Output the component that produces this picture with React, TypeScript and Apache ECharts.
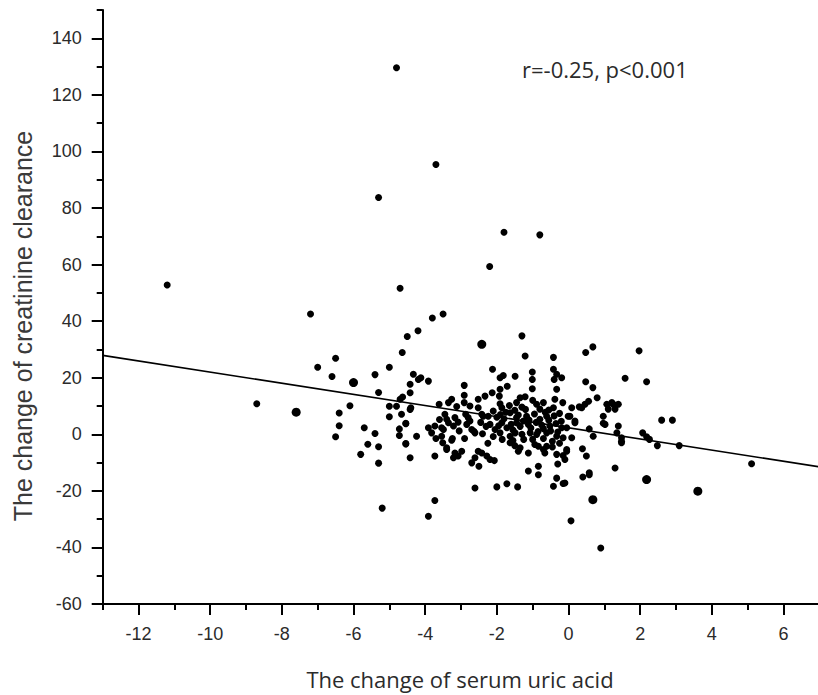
import React, { useEffect, useRef } from "react";
import * as echarts from "echarts";

const xMajorTicks = [-12, -10, -8, -6, -4, -2, 0, 2, 4, 6];
const xMinorTicks = [-13, -11, -9, -7, -5, -3, -1, 1, 3, 5, 7];
const yMajorTicks = [-60, -40, -20, 0, 20, 40, 60, 80, 100, 120, 140];
const yMinorTicks = [-50, -30, -10, 10, 30, 50, 70, 90, 110, 130, 150];

const xTitle = "The change of serum uric acid";
const yTitle = "The change of creatinine clearance";
const annotation = "r=-0.25, p<0.001";

// regression line end points
const fitLine = [
  [-13, 27.9],
  [7, -11.5],
];

// outlying points (upper part)
const upperPoints = [
  [-4.8, 129.6], [-5.3, 83.7], [-11.2, 52.8], [-7.2, 42.5], [-4.7, 51.6], [-4.5, 34.6],
  [-4.2, 36.6], [-3.7, 95.4], [-1.8, 71.4], [-0.8, 70.5], [-2.2, 59.3], [-3.8, 41.1],
  [-3.5, 42.5], [-1.3, 34.8],
];

// left cluster
const leftPoints = [
  [-6.5, 26.9], [-7.0, 23.7], [-6.6, 20.4], [-5.0, 23.7], [-5.4, 21.1], [-5.3, 14.8],
  [-8.7, 10.8], [-6.1, 10.1], [-6.4, 7.5], [-6.4, 3.0], [-6.5, -0.9], [-5.8, -7.1],
  [-5.7, 2.3], [-5.6, -3.5], [-5.4, 0.3], [-5.3, -4.4], [-5.3, -10.2], [-5.2, -26.1],
  [-5.0, 9.9], [-5.0, 6.2], [-4.8, 9.9], [-4.7, 12.4], [-4.66, 7.1], [-4.72, 1.9],
  [-4.72, -0.4], [-4.54, 3.7], [-4.54, -3.4], [-4.42, -8.3], [-4.42, 8.8], [-4.42, 14.7],
  [-4.42, 17.7], [-4.33, 21.2], [-4.64, 28.9], [-4.24, -0.7], [-4.19, 19.4], [-4.63, 13.2],
  [-4.4, 9.4],
];

// middle cluster, upper half
const midUpperPoints = [
  [-1.21, 27.7], [-0.42, 27.2], [-2.12, 23.0], [-4.12, 20.0], [-3.91, 18.8], [-1.91, 20.0],
  [-1.82, 20.8], [-1.49, 20.5], [-1.71, 17.0], [-1.01, 22.0], [-1.01, 19.4], [-1.01, 16.1],
  [-2.91, 17.3], [-2.91, 13.8], [-2.91, 11.2], [-1.91, 15.9], [-2.13, 14.7], [-2.33, 13.5],
  [-2.52, 12.4], [-1.93, 13.5], [-1.91, 10.8], [-3.26, 12.4], [-3.35, 11.2], [-3.61, 10.6],
  [-1.35, 12.9], [-1.21, 13.3], [-1.45, 11.2], [-2.52, 9.4], [-2.75, 10.0], [-3.12, 9.8],
  [-3.45, 7.1], [-3.4, 5.3], [-3.17, 5.9], [-2.8, 5.9], [-2.42, 7.1], [-2.24, 6.4],
  [-1.86, 9.4], [-1.63, 7.6], [-0.89, 10.6], [-0.8, 8.9], [-0.42, 23.0], [-0.4, 19.4],
  [-0.33, 21.2], [-0.33, 15.9], [-0.38, 12.4], [-0.42, 9.4], [-1.17, 6.4], [-1.45, 5.9],
  [-0.8, 5.3], [-0.61, 6.4],
];

// middle cluster, lower half
const midLowerPoints = [
  [-4.54, 3.9], [-4.54, -3.3], [-3.73, -7.7], [-3.91, 2.3], [-3.82, 0.5], [-3.73, 2.9],
  [-3.54, 2.3], [-3.54, -0.7], [-3.51, -3.0], [-3.26, -2.1], [-3.4, -5.4], [-3.17, -6.6],
  [-3.08, -7.7], [-2.98, -6.0], [-3.21, -8.3], [-3.35, 4.1], [-3.21, 2.9], [-3.08, 4.3],
  [-2.84, 3.5], [-2.7, 1.7], [-2.61, 0.5], [-2.52, -6.0], [-2.42, -6.6], [-2.61, -8.3],
  [-2.7, -10.1], [-2.5, -11.3], [-2.28, -7.7], [-2.19, -8.9], [-2.07, -9.3], [-2.19, 3.5],
  [-2.05, 1.7], [-1.91, 0.5], [-1.86, 4.1], [-1.72, 2.3], [-1.63, -0.7], [-1.63, -3.0],
  [-1.49, 0.5], [-1.4, -6.0], [-1.35, -4.8], [-1.45, 4.1], [-1.26, 4.7], [-1.12, 3.5],
  [-1.07, 0.5], [-1.12, -6.6], [-0.89, -0.1], [-0.94, -3.6], [-0.84, -4.2], [-0.7, -5.4],
  [-0.61, -4.2], [-0.66, -6.6], [-0.61, 0.5], [-0.52, 2.9], [-0.33, -0.7], [-0.33, -7.1],
  [-1.12, -13.0], [-0.84, -11.3], [-0.84, -14.3], [-0.33, -15.5], [-0.42, -18.4], [-2.61, -19.0],
  [-2.0, -18.6], [-1.72, -17.5], [-1.42, -18.6], [-3.73, -23.4], [-3.91, -29.0], [-3.49, 1.7],
  [-3.24, -1.5], [-3.4, -4.8], [-2.87, 7.1], [-2.75, 4.7], [-2.64, 1.1], [-2.38, 6.4],
];

// dense core (estimated)
const corePoints = [
  [-2.1, 8.2], [-2.0, 6.0], [-1.95, 3.0], [-1.8, 5.5], [-1.75, 7.8], [-1.6, 3.5],
  [-1.55, 1.5], [-1.5, 8.5], [-1.4, 6.8], [-1.35, 2.8], [-1.3, 0.0], [-1.25, -1.8],
  [-1.2, 8.8], [-1.1, 5.0], [-1.05, 2.2], [-0.95, 7.2], [-0.9, 4.2], [-0.85, 1.0],
  [-0.75, 3.3], [-0.7, -1.5], [-0.65, 7.8], [-0.55, 5.0], [-0.5, 1.2], [-0.45, -2.5],
  [-0.4, 6.5], [-0.35, 3.8], [-0.3, 0.8], [-0.25, -3.2], [-0.45, -4.5], [-1.55, -2.2],
  [-2.3, 2.8], [-2.45, 4.2], [-2.1, -0.8], [-1.85, -1.8], [-3.05, 1.2], [-2.9, -1.5],
  [-3.6, 5.2], [-3.7, -1.5], [-1.65, 10.2], [-1.3, 9.6], [-1.0, 12.0], [-0.7, 11.2],
  [-0.55, 8.6], [-0.25, 7.4], [-0.2, 4.6], [-0.7, 2.0], [-1.0, -1.8], [-1.5, -4.0],
  [-2.25, -3.2], [-2.4, 0.2], [-0.3, -10.5], [-1.9, 7.0],
];

// right cluster
const rightPoints = [
  [0.48, 28.9], [0.68, 30.9], [1.97, 29.5], [0.48, 18.6], [0.68, 16.5], [0.8, 12.9],
  [1.58, 19.8], [2.18, 18.6], [0.56, 11.7], [0.37, 9.4], [0.09, 9.4], [0.04, 6.4],
  [0.18, 4.1], [-0.05, 2.3], [1.07, 10.6], [1.21, 11.2], [1.39, 10.6], [1.11, 8.9],
  [0.97, 6.4], [1.02, 3.5], [1.39, 2.9], [2.6, 5.0], [2.9, 5.0], [0.58, 1.9],
  [0.09, -1.2], [0.69, -0.7], [1.35, 0.5], [1.48, -2.5], [2.07, 0.5], [2.18, -0.9],
  [2.26, -1.8], [2.48, -4.0], [3.09, -4.0], [5.11, -10.4], [0.39, -5.1], [0.5, -7.7],
  [-0.05, -5.4], [-0.15, -7.5], [1.3, -11.9], [0.58, -14.3], [0.4, -15.1], [0.07, -30.6],
  [0.9, -40.2], [-0.15, -17.4], [0.46, 10.6], [0.3, 9.7], [-0.16, 11.2], [-0.19, 20.0],
  [1.25, 10.6], [1.3, 8.9], [-0.01, 6.4], [0.18, 4.7], [0.97, 3.9], [1.48, -1.2],
  [1.48, -3.0], [-0.19, 2.3], [-0.15, -1.2], [-0.05, -6.0], [-0.1, -8.9], [0.58, -13.6],
  [-0.1, -17.2],
];

// slightly bigger dots (overlapping observations)
const largePoints = [
  [-6.0, 18.3], [2.18, -16.0], [3.61, -20.1], [0.68, -23.1], [-7.6, 7.8], [-2.42, 31.8],
];

const GRID_LEFT = 102.7;
const GRID_TOP = 10;
const GRID_W = 716.6;
const GRID_H = 594;

export default function App() {
  const ref = useRef<HTMLDivElement>(null);

  useEffect(() => {
    if (!ref.current) return;
    const chart = echarts.init(ref.current, null, { renderer: "svg" });
    const smallPoints = [
      ...upperPoints,
      ...leftPoints,
      ...midUpperPoints,
      ...midLowerPoints,
      ...corePoints,
      ...rightPoints,
    ];
    const axisLineStyle = { color: "#000", width: 2 };
    const labelStyle = {
      fontFamily: "Liberation Sans, Arial, sans-serif",
      fontSize: 18,
      color: "#2b2b2b",
    };
    const gridBox = {
      left: GRID_LEFT,
      top: GRID_TOP,
      width: GRID_W,
      height: GRID_H,
      containLabel: false,
      outerBoundsMode: "none",
    };
    chart.setOption({
      animation: false,
      backgroundColor: "#fff",
      grid: [{ ...gridBox }, { ...gridBox }],
      xAxis: [
        {
          type: "value",
          gridIndex: 0,
          min: -13,
          max: 7,
          position: "bottom",
          axisLine: { show: true, onZero: false, lineStyle: axisLineStyle },
          axisTick: {
            show: true,
            length: 11,
            customValues: xMajorTicks,
            lineStyle: axisLineStyle,
          },
          axisLabel: { ...labelStyle, margin: 21, customValues: xMajorTicks },
          splitLine: { show: false },
        },
        {
          type: "value",
          gridIndex: 1,
          min: -13,
          max: 7,
          position: "bottom",
          axisLine: { show: false, onZero: false },
          axisTick: {
            show: true,
            length: 6,
            customValues: xMinorTicks,
            lineStyle: axisLineStyle,
          },
          axisLabel: { show: false },
          splitLine: { show: false },
        },
      ],
      yAxis: [
        {
          type: "value",
          gridIndex: 0,
          min: -60,
          max: 150,
          position: "left",
          axisLine: { show: true, onZero: false, lineStyle: axisLineStyle },
          axisTick: {
            show: true,
            length: 11,
            customValues: yMajorTicks,
            lineStyle: axisLineStyle,
          },
          axisLabel: { ...labelStyle, margin: 21, customValues: yMajorTicks },
          splitLine: { show: false },
        },
        {
          type: "value",
          gridIndex: 1,
          min: -60,
          max: 150,
          position: "left",
          axisLine: { show: false, onZero: false },
          axisTick: {
            show: true,
            length: 6,
            customValues: yMinorTicks,
            lineStyle: axisLineStyle,
          },
          axisLabel: { show: false },
          splitLine: { show: false },
        },
      ],
      series: [
        {
          type: "line",
          data: fitLine,
          xAxisIndex: 0,
          yAxisIndex: 0,
          symbol: "none",
          lineStyle: { color: "#000", width: 1.6 },
          silent: true,
          z: 3,
        },
        {
          type: "scatter",
          data: smallPoints,
          xAxisIndex: 0,
          yAxisIndex: 0,
          symbol: "circle",
          symbolSize: 7,
          itemStyle: { color: "#000", opacity: 1 },
          silent: true,
          z: 4,
        },
        {
          type: "scatter",
          data: largePoints,
          xAxisIndex: 0,
          yAxisIndex: 0,
          symbol: "circle",
          symbolSize: 9,
          itemStyle: { color: "#000", opacity: 1 },
          silent: true,
          z: 4,
        },
      ],
      graphic: [
        {
          type: "text",
          x: 460,
          y: 679,
          style: {
            text: xTitle,
            fontFamily: "Open Sans, sans-serif",
            fontSize: 22,
            fill: "#2b2b2b",
            textAlign: "center",
            textVerticalAlign: "middle",
          },
        },
        {
          type: "text",
          x: 23,
          y: 326,
          rotation: Math.PI / 2,
          style: {
            text: yTitle,
            fontFamily: "Liberation Sans, Arial, sans-serif",
            fontSize: 25,
            fill: "#3a3a3a",
            textAlign: "center",
            textVerticalAlign: "middle",
          },
        },
        {
          type: "text",
          x: 522,
          y: 69,
          style: {
            text: annotation,
            fontFamily: "Open Sans, sans-serif",
            fontSize: 22,
            fill: "#2b2b2b",
            textAlign: "left",
            textVerticalAlign: "middle",
          },
        },
      ],
    });
    return () => chart.dispose();
  }, []);

  return (
    <div
      ref={ref}
      style={{
        position: "fixed",
        left: 0,
        top: 0,
        width: 818,
        height: 695,
        background: "#fff",
      }}
    />
  );
}
